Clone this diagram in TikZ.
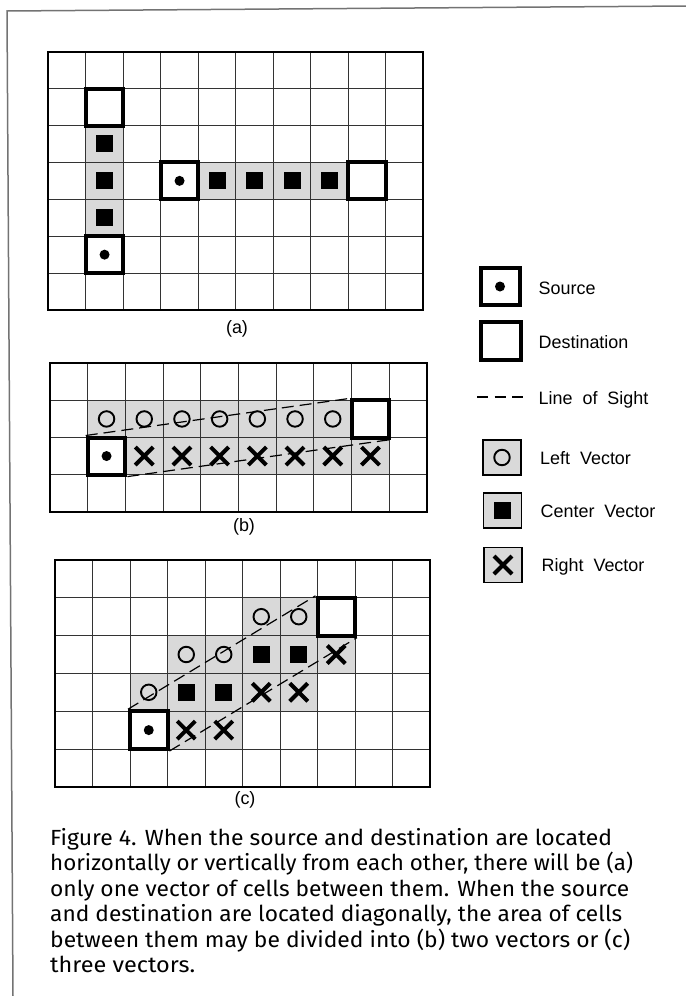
\documentclass[tikz,border=0pt]{standalone}
\usepackage{fontspec}
\setmainfont{Liberation Sans}
\newfontfamily\capfont{Fira Sans}
\usetikzlibrary{shapes.misc}
\newcommand{\capline}[2]{\resizebox{#1bp}{\height}{#2}}
\begin{document}
\begin{tikzpicture}[x=1bp,y=-1bp,
  gridline/.style={line width=0.9bp, black!80},
  outline/.style={line width=2.3bp, black},
  shadecell/.style={fill=black!15},
  endbox/.style={draw, line width=4bp, fill=white, inner sep=0pt, minimum width=37.5bp, minimum height=37bp},
  dotmark/.style={circle, fill=black, inner sep=0pt, minimum size=10bp},
  sqmark/.style={rectangle, fill=black, inner sep=0pt, minimum size=17bp},
  circmark/.style={circle, draw, line width=1.9bp, inner sep=0pt, minimum size=15.5bp},
  xmark/.style={cross out, draw, line width=4bp, inner sep=0pt, minimum size=14bp},
  los/.style={dash pattern=on 12bp off 6bp, line width=1.2bp},
  legbox/.style={draw, line width=1.8bp, fill=black!15, inner sep=0pt, minimum width=38bp, minimum height=35bp},
  lbl/.style={font=\fontsize{18}{20}\selectfont, inner sep=0pt, anchor=base west},
  plbl/.style={font=\fontsize{18}{20}\selectfont, inner sep=0pt, anchor=base},
  captext/.style={font=\capfont\fontsize{22}{25}\selectfont, inner sep=0pt, anchor=base west},
]
\useasboundingbox (0,0) rectangle (686,996);
% page frame
\coordinate (fbl) at (13,996);
\coordinate (ftl) at (7,11);
\coordinate (ftr) at (686,6);
\draw[black!55, line width=1.5bp] (fbl) -- (ftl) -- (ftr);

% ---------------- panel (a)
\begin{scope}[shift={(48.3,51.7)}, x=37.5bp, y=-36.9bp]
  \fill[shadecell] (1,2) rectangle (2,5);
  \fill[shadecell] (4,3) rectangle (8,4);
  \foreach \i in {1,...,9} \draw[gridline] (\i,0) -- (\i,7);
  \foreach \j in {1,...,6} \draw[gridline] (0,\j) -- (10,\j);
  \draw[outline] (0,0) rectangle (10,7);
  \foreach \j in {2,3,4} \node[sqmark] (asqv\j) at (1.5,\j+0.5) {};
  \foreach \i in {4,...,7} \node[sqmark] (asqh\i) at (\i+0.5,3.5) {};
  \node[endbox, minimum height=36.9bp] (aD1) at (1.5,1.5) {};
  \node[endbox, minimum height=36.9bp] (aS1) at (1.5,5.5) {};
  \node[dotmark] (aS1d) at (aS1.center) {};
  \node[endbox, minimum height=36.9bp] (aS2) at (3.5,3.5) {};
  \node[dotmark] (aS2d) at (aS2.center) {};
  \node[endbox, minimum height=36.9bp] (aD2) at (8.5,3.5) {};
\end{scope}
\node[plbl] (la) at (237,333) {(a)};

% ---------------- panel (b)
\begin{scope}[shift={(50,363.3)}, x=37.7bp, y=-37.1bp]
  \fill[shadecell] (1,1) rectangle (8,2);
  \fill[shadecell] (2,2) rectangle (9,3);
  \foreach \i in {1,...,9} \draw[gridline] (\i,0) -- (\i,4);
  \foreach \j in {1,...,3} \draw[gridline] (0,\j) -- (10,\j);
  \draw[outline] (0,0) rectangle (10,4);
  \foreach \i in {1,...,7} \node[circmark] (bc\i) at (\i+0.5,1.5) {};
  \foreach \i in {2,...,8} \node[xmark] (bx\i) at (\i+0.5,2.5) {};
  \node[endbox, minimum width=37.7bp, minimum height=37.1bp] (bS) at (1.5,2.5) {};
  \node[dotmark] (bSd) at (bS.center) {};
  \node[endbox, minimum width=37.7bp, minimum height=37.1bp] (bD) at (8.5,1.5) {};
  \draw[los] (bS.north west) -- (bD.north west);
  \draw[los] (bS.south east) -- (bD.south east);
\end{scope}
\node[plbl] (lb) at (244,531) {(b)};

% ---------------- panel (c)
\begin{scope}[shift={(55,560)}, x=37.5bp, y=-37.8bp]
  \fill[shadecell] (5,1) rectangle (7,2);
  \fill[shadecell] (3,2) rectangle (8,3);
  \fill[shadecell] (2,3) rectangle (7,4);
  \fill[shadecell] (3,4) rectangle (5,5);
  \foreach \i in {1,...,9} \draw[gridline] (\i,0) -- (\i,6);
  \foreach \j in {1,...,5} \draw[gridline] (0,\j) -- (10,\j);
  \draw[outline] (0,0) rectangle (10,6);
  \node[circmark] (cc1) at (5.5,1.5) {};
  \node[circmark] (cc2) at (6.5,1.5) {};
  \node[circmark] (cc3) at (3.5,2.5) {};
  \node[circmark] (cc4) at (4.5,2.5) {};
  \node[circmark] (cc5) at (2.5,3.5) {};
  \node[sqmark] (cq1) at (5.5,2.5) {};
  \node[sqmark] (cq2) at (6.5,2.5) {};
  \node[sqmark] (cq3) at (3.5,3.5) {};
  \node[sqmark] (cq4) at (4.5,3.5) {};
  \node[xmark] (cx1) at (7.5,2.5) {};
  \node[xmark] (cx2) at (5.5,3.5) {};
  \node[xmark] (cx3) at (6.5,3.5) {};
  \node[xmark] (cx4) at (3.5,4.5) {};
  \node[xmark] (cx5) at (4.5,4.5) {};
  \node[endbox, minimum height=37.8bp] (cS) at (2.5,4.5) {};
  \node[dotmark] (cSd) at (cS.center) {};
  \node[endbox, minimum height=37.8bp] (cD) at (7.5,1.5) {};
  \draw[los] (cS.north west) -- (cD.north west);
  \draw[los] (cS.south east) -- (cD.south east);
\end{scope}
\node[plbl] (lc) at (245,804) {(c)};

% ---------------- legend
\node[endbox, minimum width=39bp, minimum height=37bp] (gS) at (500,286.5) {};
\node[dotmark] (gSd) at (gS.center) {};
\node[lbl] (tS) at (538.5,294) {Source};
\node[endbox, minimum width=40bp, minimum height=38bp] (gD) at (500.5,341) {};
\node[lbl] (tD) at (538.5,348) {Destination};
\coordinate (gL1) at (477,397);
\coordinate (gL2) at (523,397);
\draw[dash pattern=on 11bp off 6.5bp, line width=1.3bp] (gL1) -- (gL2);
\node[lbl] (tL) at (538.5,404) {Line\ \ of\ \ Sight};
\node[legbox] (gLV) at (502,457.5) {};
\node[circmark] (gLVc) at (gLV.center) {};
\node[lbl] (tLV) at (540,464) {Left\ \ Vector};
\node[legbox] (gCV) at (502.5,510.5) {};
\node[sqmark] (gCVs) at (gCV.center) {};
\node[lbl] (tCV) at (540.5,517) {Center\ \ Vector};
\node[legbox] (gRV) at (503,565) {};
\node[xmark] (gRVx) at (gRV.center) {};
\node[lbl] (tRV) at (541.5,571.5) {Right\ \ Vector};

% ---------------- caption
\node[captext] (c1) at (50,845) {\capline{562}{Figure 4. When the source and destination are located}};
\node[captext] (c2) at (50,870.5) {\capline{583}{horizontally or vertically from each other, there will be (a)}};
\node[captext] (c3) at (50,896) {\capline{579}{only one vector of cells between them. When the source}};
\node[captext] (c4) at (50,921.5) {\capline{572}{and destination are located diagonally, the area of cells}};
\node[captext] (c5) at (50,947) {\capline{580}{between them may be divided into (b) two vectors or (c)}};
\node[captext] (c6) at (50,972.5) {\capline{145}{three vectors.}};
\end{tikzpicture}
\end{document}
